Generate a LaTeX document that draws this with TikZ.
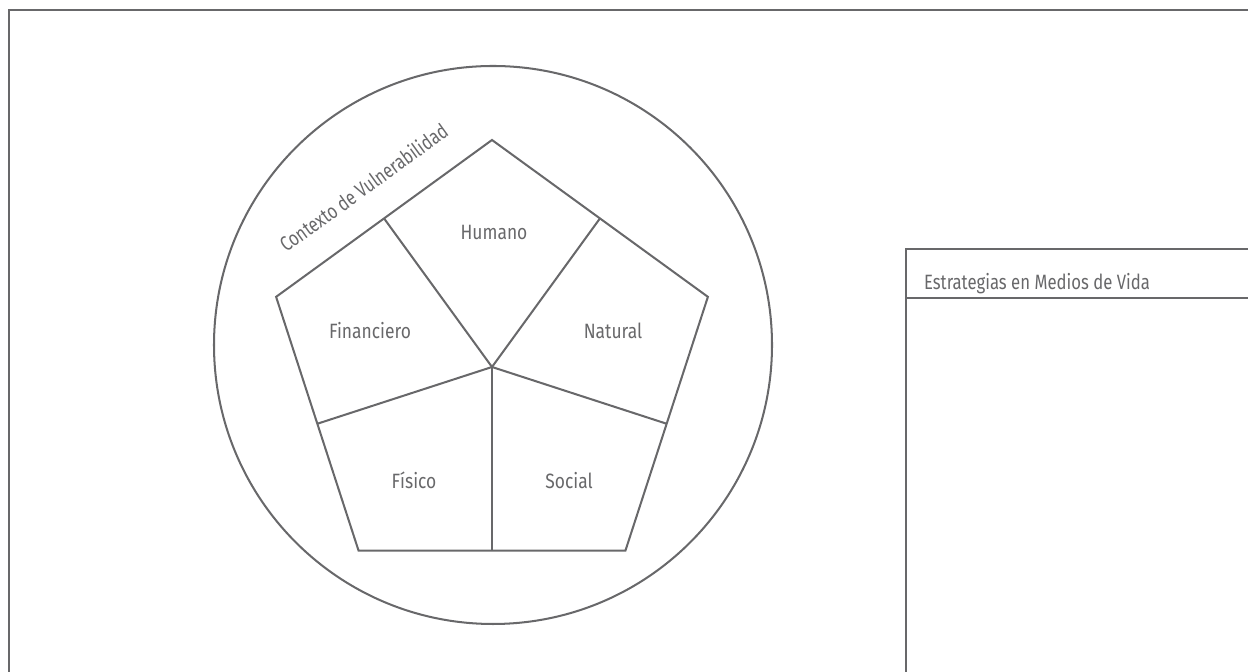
\documentclass[tikz,border=0pt]{standalone}
\usepackage{fontspec}
\setmainfont[FakeStretch=0.84]{Fira Sans}
\usetikzlibrary{positioning}
\definecolor{linegray}{RGB}{104,104,106}
\definecolor{textgray}{RGB}{104,104,106}

\begin{document}
\begin{tikzpicture}[
    x=0.02cm, y=0.02cm,
    every node/.style={font=\fontsize{11.8}{13}\selectfont, text=textgray, inner sep=0pt},
    frame/.style={draw=linegray, line width=1.4pt},
    edge/.style={draw=linegray, line width=1.15pt, line join=miter},
    lbl/.style={anchor=base}
]
\clip (0,0) rectangle (1248,672);
\coordinate (c) at (492,305);
\coordinate (ctx) at (493,327);
\draw[frame] (9,-20) -- (9,662) -- (1270,662);
\draw[frame] (906,-20) -- (906,423) -- (1270,423);
\draw[frame] (906,374) -- (1270,374);
\node[lbl, xscale=0.96] (strat) at (1037,382) {Estrategias en Medios de Vida};
\draw[edge] (ctx) circle (279);
\foreach \a [count=\i] in {90,162,234,306,18} {
    \coordinate (v\i) at ([shift={(c)}] \a:227);
}
\foreach \a [count=\i] in {126,198,270,342,54} {
    \coordinate (m\i) at ([shift={(c)}] \a:183.6);
}
\draw[edge] (v1) -- (v2) -- (v3) -- (v4) -- (v5) -- cycle;
\foreach \i in {1,...,5} {
    \draw[edge] (c) -- (m\i);
}
\node[lbl] (humano) at (494,432) {Humano};
\node[lbl] (financiero) at (370,333) {Financiero};
\node[lbl] (natural) at (613,333) {Natural};
\node[lbl] (fisico) at (414,183) {Físico};
\node[lbl] (social) at (569,183) {Social};
\node[lbl, rotate=35.8, xscale=0.94] (contexto) at (368,478) {Contexto de Vulnerabilidad};
\end{tikzpicture}
\end{document}
